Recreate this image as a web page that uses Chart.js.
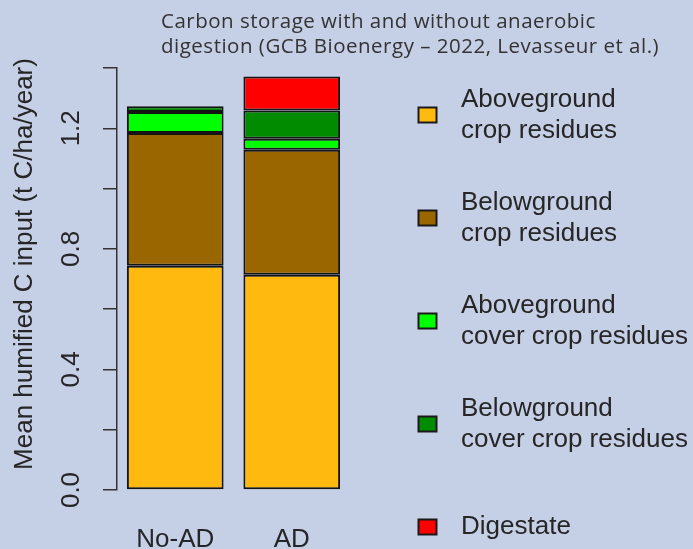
<!DOCTYPE html>
<html>
<head>
<meta charset="utf-8">
<script src="https://cdn.jsdelivr.net/npm/chart.js@4.4.0/dist/chart.umd.min.js"></script>
<style>
  html, body { margin: 0; padding: 0; background: #c5cfe6; }
  canvas { display: block; }
</style>
</head>
<body>
<canvas id="chart" width="693" height="549"></canvas>
<script>
// Categories (bars) and stacked series
const categories = ['No-AD', 'AD'];
const agCrop = [0.744, 0.714];     // Aboveground crop residues
const bgCrop = [0.440, 0.415];     // Belowground crop residues
const agCover = [0.070, 0.036];    // Aboveground cover crop residues
const bgCover = [0.019, 0.094];    // Belowground cover crop residues
const digestate = [0, 0.113];      // Digestate

// Y tick labels that are printed (the others only get a tick mark)
const yTickLabels = [0, 0.4, 0.8, 1.2];

// Legend text, one array per series (two lines where the picture wraps)
const seriesLines = [
    ['Aboveground', 'crop residues'],
    ['Belowground', 'crop residues'],
    ['Aboveground', 'cover crop residues'],
    ['Belowground', 'cover crop residues'],
    ['Digestate']
];
const seriesColors = ['#ffb90f', '#996600', '#00ff00', '#008b00', '#ff0000'];
const seriesValues = [agCrop, bgCrop, agCover, bgCover, digestate];

const titleLines = [
    'Carbon storage with and without anaerobic',
    'digestion (GCB Bioenergy \u2013 2022, Levasseur et al.)'
];
const yTitle = 'Mean humified C input (t C/ha/year)';

const textColor = '#262626';
const labelFont = '26px "Liberation Sans", Arial, sans-serif';

// Draws the rotated y labels, y title, the legend and the heading
const extrasPlugin = {
    id: 'extras',
    afterDraw(chart) {
        const ctx = chart.ctx;
        const yScale = chart.scales.y;
        ctx.save();
        ctx.fillStyle = textColor;
        ctx.font = labelFont;
        ctx.textAlign = 'center';
        ctx.textBaseline = 'middle';

        // rotated tick labels
        yTickLabels.forEach(v => {
            ctx.save();
            ctx.translate(72, yScale.getPixelForValue(v));
            ctx.rotate(-Math.PI / 2);
            ctx.fillText(v.toFixed(1), 0, 0);
            ctx.restore();
        });

        // y axis title
        ctx.save();
        ctx.translate(25, 264);
        ctx.rotate(-Math.PI / 2);
        ctx.fillText(yTitle, 0, 0);
        ctx.restore();

        // legend
        ctx.textAlign = 'left';
        chart.data.datasets.forEach((ds, i) => {
            const cy = 115 + i * 103;
            ctx.fillStyle = ds.backgroundColor;
            ctx.fillRect(418.5, cy - 7.5, 18, 15);
            ctx.strokeStyle = '#1a1a1a';
            ctx.lineWidth = 2;
            ctx.strokeRect(418.5, cy - 7.5, 18, 15);
            ctx.fillStyle = textColor;
            const lines = seriesLines[i];
            const lh = 31;
            lines.forEach((t, k) => {
                ctx.fillText(t, 461, cy + (k - (lines.length - 1) / 2) * lh);
            });
        });

        // heading
        ctx.font = '20.5px "Open Sans", sans-serif';
        ctx.letterSpacing = '0.5px';
        ctx.fillStyle = '#333';
        titleLines.forEach((t, k) => {
            ctx.fillText(t, 161, 22 + k * 25);
        });
        ctx.restore();
    }
};

const ctx = document.getElementById('chart').getContext('2d');
new Chart(ctx, {
    type: 'bar',
    data: {
        labels: categories,
        datasets: seriesValues.map((vals, i) => ({
            label: seriesLines[i].join(' '),
            data: vals,
            backgroundColor: seriesColors[i],
            borderColor: '#141414',
            borderWidth: 2,
            borderSkipped: false,
            barPercentage: 0.83,
            categoryPercentage: 1
        }))
    },
    options: {
        responsive: false,
        animation: false,
        layout: { padding: { top: 68, right: 343, left: 0, bottom: 0 } },
        plugins: {
            legend: { display: false },
            tooltip: { enabled: false },
            title: { display: false }
        },
        scales: {
            x: {
                stacked: true,
                grid: { display: false, drawTicks: false },
                border: { display: false },
                ticks: {
                    color: textColor,
                    font: { family: '"Liberation Sans", Arial, sans-serif', size: 26 },
                    padding: 34
                },
                afterFit: (scale) => { scale.height = 59; }
            },
            y: {
                stacked: true,
                min: 0,
                max: 1.4,
                grid: {
                    drawOnChartArea: false,
                    drawTicks: true,
                    tickLength: 14,
                    color: '#333',
                    lineWidth: 1.5
                },
                border: { display: true, color: '#333', width: 1.5 },
                ticks: { display: false, stepSize: 0.2 },
                afterFit: (scale) => { scale.width = 117; }
            }
        }
    },
    plugins: [extrasPlugin]
});
</script>
</body>
</html>
